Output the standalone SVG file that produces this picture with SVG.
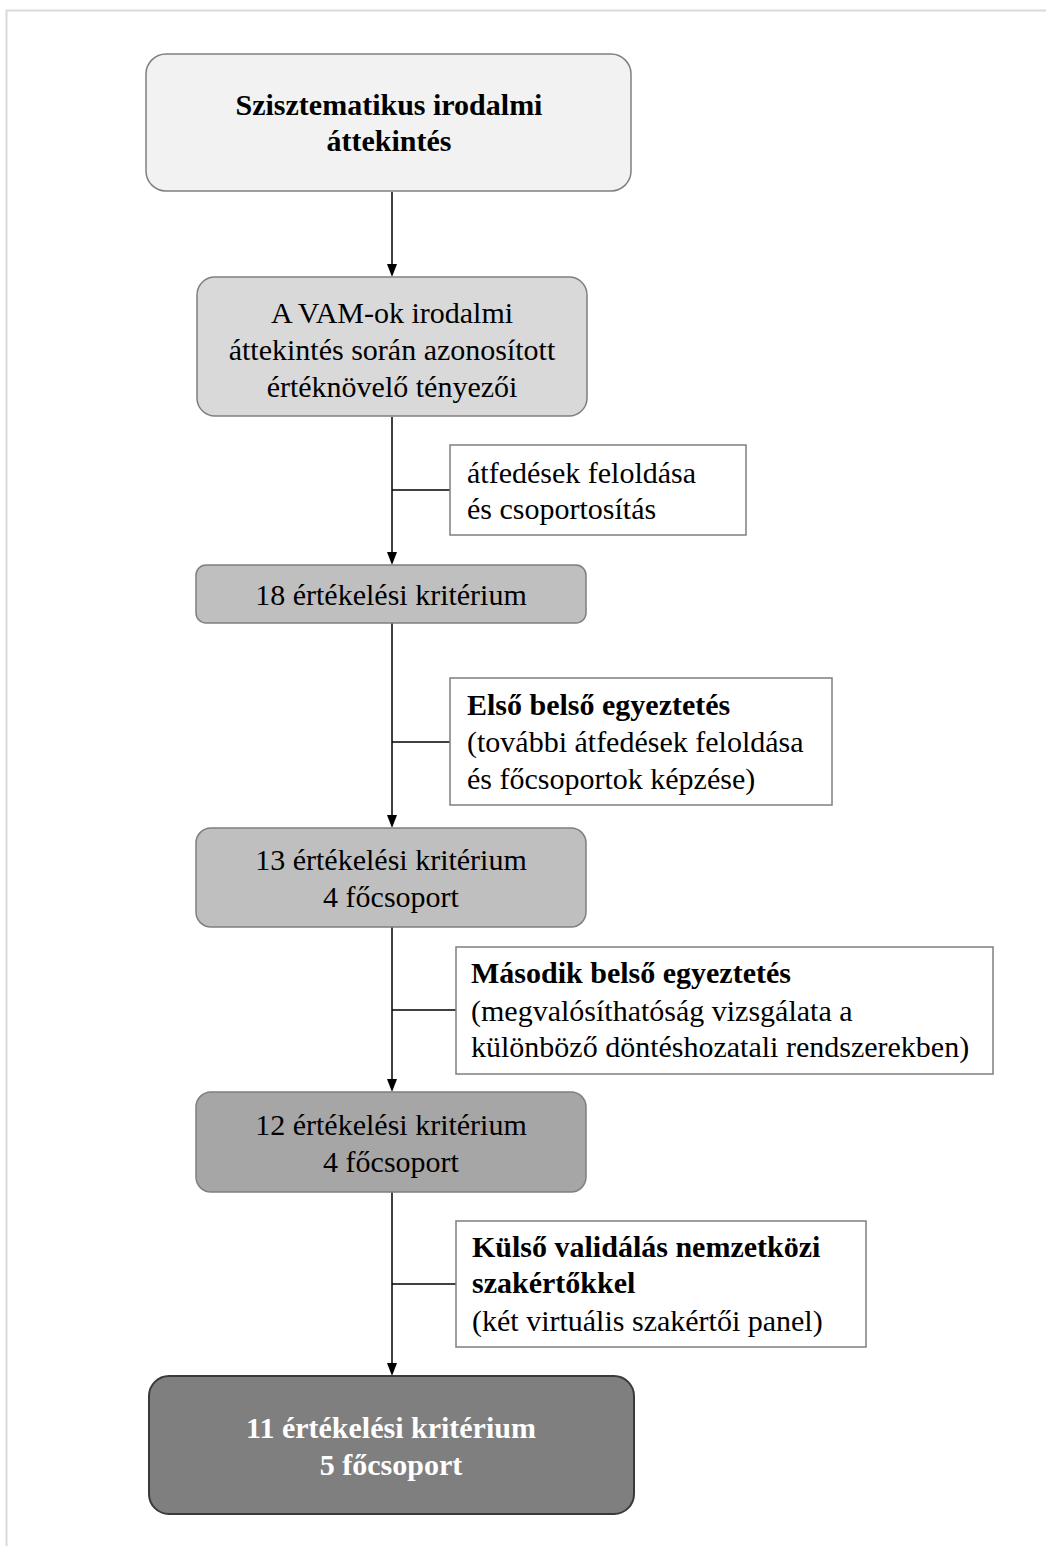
<svg xmlns="http://www.w3.org/2000/svg" width="1046" height="1546" viewBox="0 0 1046 1546">
  <style>
    .step { stroke: #7f7f7f; stroke-width: 1.5; }
    .note { fill: #ffffff; stroke: #7f7f7f; stroke-width: 1.5; }
    .t { font-family: "Liberation Serif", "Times New Roman", serif; font-size: 30px; fill: #000; }
    .mid { text-anchor: middle; }
    .b { font-weight: bold; }
    .w { fill: #ffffff; }
    .line { stroke: #000; stroke-width: 1.5; fill: none; }
    .head { fill: #000; }
  </style>

  <rect width="1046" height="1546" fill="#ffffff"/>
  <!-- page frame (top and left edges) -->
  <path d="M6.5,1546 L6.5,10.5 L1046,10.5" fill="none" stroke="#d9d9d9" stroke-width="2"/>

  <!-- connectors: main flow with arrowheads, plus side links to the notes -->
  <g id="connectors">
    <line class="line" x1="392" y1="192" x2="392" y2="264"/>
    <path class="head" d="M387,264 L397,264 L392,277 Z"/>
    <line class="line" x1="392" y1="417" x2="392" y2="552"/>
    <path class="head" d="M387,552 L397,552 L392,565 Z"/>
    <line class="line" x1="392" y1="490" x2="450" y2="490"/>
    <line class="line" x1="392" y1="623" x2="392" y2="815"/>
    <path class="head" d="M387,815 L397,815 L392,828 Z"/>
    <line class="line" x1="392" y1="742" x2="450" y2="742"/>
    <line class="line" x1="392" y1="927" x2="392" y2="1079"/>
    <path class="head" d="M387,1079 L397,1079 L392,1092 Z"/>
    <line class="line" x1="392" y1="1010" x2="456" y2="1010"/>
    <line class="line" x1="392" y1="1192" x2="392" y2="1363"/>
    <path class="head" d="M387,1363 L397,1363 L392,1376 Z"/>
    <line class="line" x1="392" y1="1284" x2="456" y2="1284"/>
  </g>

  <!-- process steps -->
  <g id="step1">
    <rect class="step" x="146" y="54" width="485" height="137" rx="20" fill="#f2f2f2"/>
    <text class="t b mid" x="389" y="115">Szisztematikus irodalmi</text>
    <text class="t b mid" x="389" y="151">áttekintés</text>
  </g>

  <g id="step2">
    <rect class="step" x="197" y="277" width="390" height="139" rx="18" fill="#d9d9d9"/>
    <text class="t mid" x="392" y="323">A VAM-ok irodalmi</text>
    <text class="t mid" x="392" y="360">áttekintés során azonosított</text>
    <text class="t mid" x="392" y="397">értéknövelő tényezői</text>
  </g>

  <g id="step3">
    <rect class="step" x="196" y="565" width="390" height="58" rx="10" fill="#bfbfbf"/>
    <text class="t mid" x="391" y="605">18 értékelési kritérium</text>
  </g>

  <g id="step4">
    <rect class="step" x="196" y="828" width="390" height="99" rx="15" fill="#bfbfbf"/>
    <text class="t mid" x="391" y="870">13 értékelési kritérium</text>
    <text class="t mid" x="391" y="907">4 főcsoport</text>
  </g>

  <g id="step5">
    <rect class="step" x="196" y="1092" width="390" height="100" rx="15" fill="#a6a6a6"/>
    <text class="t mid" x="391" y="1135">12 értékelési kritérium</text>
    <text class="t mid" x="391" y="1172">4 főcsoport</text>
  </g>

  <g id="step6">
    <rect x="149" y="1376" width="485" height="138" rx="20" fill="#7f7f7f" stroke="#3a3a3a" stroke-width="2"/>
    <text class="t b w mid" x="391" y="1438">11 értékelési kritérium</text>
    <text class="t b w mid" x="391" y="1475">5 főcsoport</text>
  </g>

  <!-- side notes -->
  <g id="note1">
    <rect class="note" x="450" y="445" width="296" height="90"/>
    <text class="t" x="467" y="483">átfedések feloldása</text>
    <text class="t" x="467" y="519">és csoportosítás</text>
  </g>

  <g id="note2">
    <rect class="note" x="450" y="678" width="382" height="127"/>
    <text class="t b" x="467" y="715">Első belső egyeztetés</text>
    <text class="t" x="467" y="752">(további átfedések feloldása</text>
    <text class="t" x="467" y="789">és főcsoportok képzése)</text>
  </g>

  <g id="note3">
    <rect class="note" x="456" y="947" width="537" height="127"/>
    <text class="t b" x="471" y="983">Második belső egyeztetés</text>
    <text class="t" x="471" y="1021">(megvalósíthatóság vizsgálata a</text>
    <text class="t" x="471" y="1057">különböző döntéshozatali rendszerekben)</text>
  </g>

  <g id="note4">
    <rect class="note" x="456" y="1221" width="410" height="126"/>
    <text class="t b" x="472" y="1257">Külső validálás nemzetközi</text>
    <text class="t b" x="472" y="1293">szakértőkkel</text>
    <text class="t" x="472" y="1331">(két virtuális szakértői panel)</text>
  </g>
</svg>
